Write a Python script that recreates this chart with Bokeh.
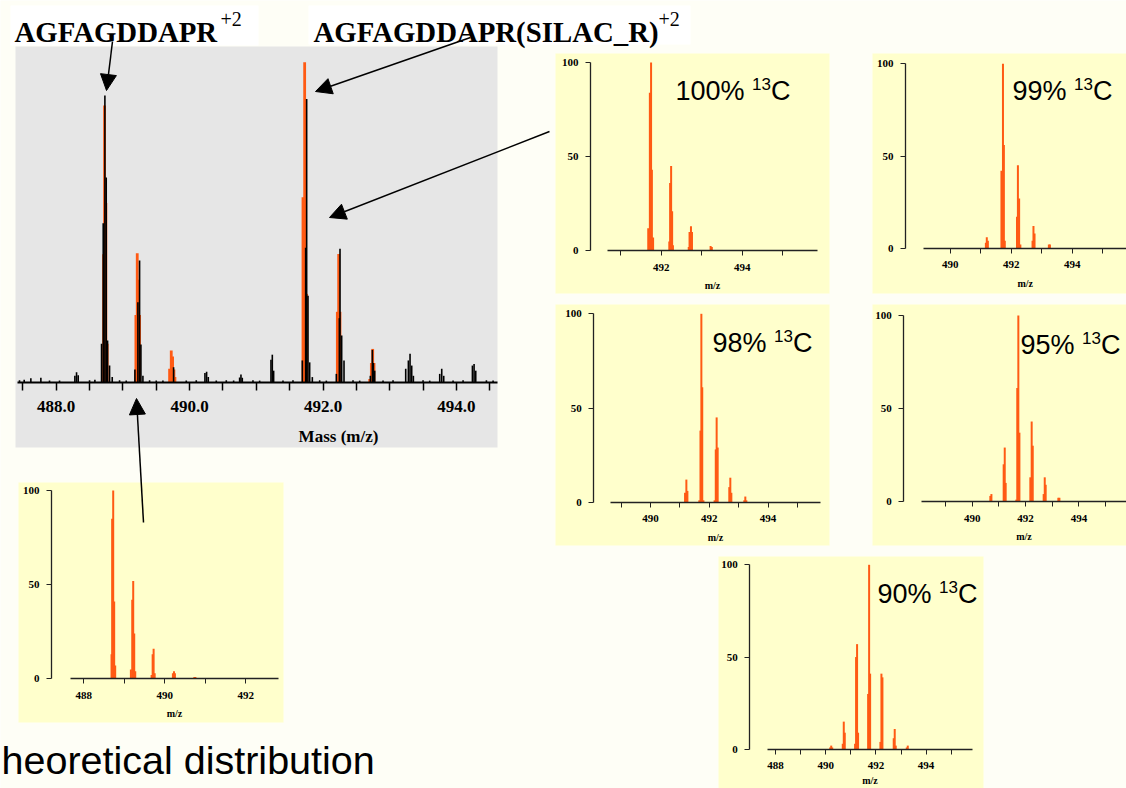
from bokeh.plotting import figure
from bokeh.models import Range1d, LinearAxis, FixedTicker, PrintfTickFormatter, Arrow, NormalHead
from bokeh.core.properties import value
from bokeh.embed import file_html
from bokeh.resources import INLINE

# ------------------------------------------------------------------ data
# observed spectrum (black), m/z and intensity (% of tallest fitted peak)
obs_mz = [487.45, 487.52, 487.62, 487.77, 487.90, 488.05, 488.28, 488.305, 488.33, 488.50, 488.58,
          488.68, 488.705, 488.73, 488.75, 488.77, 488.80, 488.84, 488.95, 489.05,
          489.18, 489.225, 489.25, 489.27, 489.30, 489.40, 489.50, 489.60, 489.76, 489.95, 490.10,
          490.23, 490.255, 490.28, 490.40, 490.55, 490.66, 490.75, 490.77, 490.79, 490.95, 491.05,
          491.22, 491.24, 491.26, 491.40, 491.55,
          491.69, 491.74, 491.755, 491.775, 491.80, 491.84, 491.95, 492.05,
          492.20, 492.245, 492.255, 492.28, 492.315, 492.45, 492.55,
          492.71, 492.74, 492.755, 492.775, 492.90, 493.05,
          493.24, 493.28, 493.305, 493.33, 493.355, 493.50, 493.60,
          493.75, 493.78, 493.81, 493.95, 494.10, 494.24, 494.265, 494.29, 494.45, 494.55]
obs_int = [0.6, 0.8, 1.2, 1.4, 0.5, 0.5, 2.0, 3.1, 2.2, 0.6, 0.8,
           12, 49.7, 89.6, 64, 13, 5.2, 1.6, 0.6, 0.5,
           4, 25, 38, 11.8, 2, 0.6, 0.5, 0.5, 4.7, 0.5, 0.6,
           2.9, 3.3, 1.6, 0.5, 0.6, 0.5, 1.5, 2.4, 1.4, 0.6, 0.5,
           7, 8.6, 3.6, 0.5, 0.6,
           6.8, 42, 88.5, 27, 6.2, 1.6, 0.6, 0.5,
           2.6, 20, 41.7, 14.6, 6.8, 0.6, 0.5,
           2, 10.1, 6, 3.6, 0.5, 0.6,
           4.2, 6.8, 8.9, 5.2, 2, 0.6, 0.5,
           2.6, 4.2, 2, 0.5, 0.6, 5.2, 5.7, 3.6, 0.6, 0.5]
# fitted / theoretical overlay on the observed spectrum (orange)
fit_mz = [488.71, 488.725, 488.745, 488.765,
          489.195, 489.215, 489.235, 489.25,
          489.70, 489.725, 489.745, 489.765, 489.78,
          491.70, 491.725, 491.755,
          492.215, 492.235, 492.255,
          492.70, 492.725, 492.745, 492.765]
fit_int = [40, 86.5, 56, 12,
           21, 40.3, 32, 21,
           4.2, 9.9, 8, 4, 1.6,
           57.8, 100, 27.6,
           22, 40.1, 22,
           1, 6, 10.4, 6]
# theoretical distribution, light peptide
theo_mz = [488.685, 488.70, 488.726, 488.75, 488.775,
           489.163, 489.196, 489.22, 489.245, 489.27,
           489.674, 489.70, 489.724, 489.75,
           490.20, 490.227, 490.25, 490.73, 490.755]
theo_int = [13, 85, 100, 41, 7,
            5, 42, 52, 24, 4,
            2, 13, 16, 3,
            3, 4, 3, 1, 1]
# heavy peptide at different 13C enrichment
c100_mz = [491.68, 491.72, 491.75, 491.77, 491.80, 492.20, 492.22, 492.245, 492.27, 492.29,
           492.68, 492.70, 492.735, 492.76, 493.22, 493.25]
c100_int = [12, 84, 100, 43, 7, 5, 36, 45, 21, 3, 2, 10, 13, 10, 2.5, 2]
c99_mz = [491.17, 491.20, 491.235, 491.68, 491.73, 491.76, 491.79, 492.19, 492.22, 492.26, 492.30,
          492.70, 492.73, 492.765, 493.235, 493.27]
c99_int = [3, 6, 4, 42, 100, 56, 4, 17, 45, 27, 2, 4, 12, 8, 2, 2]
c98_mz = [491.175, 491.22, 491.255, 491.66, 491.70, 491.73, 491.76, 491.80, 492.18, 492.22, 492.25, 492.285,
          492.68, 492.715, 492.75, 493.19, 493.225, 493.26]
c98_int = [5, 12, 6, 1, 38, 100, 61, 1, 1, 28, 45, 29, 8, 13, 5, 1, 3, 1]
c95_mz = [490.68, 490.72, 491.18, 491.22, 491.255, 491.655, 491.69, 491.73, 491.77, 492.18, 492.23, 492.27,
          492.68, 492.72, 492.755, 493.23, 493.27]
c95_int = [3, 4, 20, 29, 10, 1, 61, 100, 37, 13, 43, 30, 4, 13, 9, 2, 2]
c90_mz = [490.18, 490.22, 490.26, 490.68, 490.72, 490.76, 491.17, 491.21, 491.25, 491.29,
          491.69, 491.73, 491.77, 492.18, 492.22, 492.26, 492.71, 492.75, 492.79, 493.23, 493.27]
c90_int = [1, 2, 1, 3, 15, 9, 3, 50, 57, 9, 30, 100, 41, 4, 41, 39, 6, 11, 2, 1, 2]

enrich_labels = ["100%", "99%", "98%", "95%", "90%"]
iso_mass = "13"
element = "C"
peptide_light = "AGFAGDDAPR"
peptide_heavy = "AGFAGDDAPR(SILAC_R)"
charge = "+2"
main_ticks = [488, 490, 492, 494]
main_minor = [487.5, 488.5, 489.0, 489.5, 490.5, 491.0, 491.5, 492.5, 493.0, 493.5, 494.5]
panel_ticks = [488, 490, 492, 494]
panel_minor = [489, 491, 493, 495]
y_ticks = [0, 50, 100]
main_xlabel = "Mass (m/z)"
panel_xlabel = "m/z"
caption = "heoretical distribution"

# ------------------------------------------------------------------ layout / style
W, H = 1126, 788
BG = "#FEFEF6"
GRAY = "#E6E6E6"
YEL = "#FFFFCC"
ORANGE = "#FF5A14"
SERIF = value("Liberation Serif")
SANS = value("Liberation Sans")

p = figure(width=W, height=H, x_range=Range1d(0, W), y_range=Range1d(H, 0),
           x_axis_type=None, y_axis_type=None, toolbar_location=None, output_backend="svg",
           min_border=0, outline_line_color=None, background_fill_color=BG, border_fill_color=BG)

main_g = dict(key="main", rect=(15, 497, 46, 447), xref=(488, 55.7), ppu=66.7, y0=381.7, y100=61.7,
              axis=(16.7, 496.7))
panels = [
    dict(key="theo", rect=(18, 283, 482, 722), xref=(488, 83.3), ppu=40.5, axis=(70, 278),
         y0=678.3, y100=490, yax=51, mz=theo_mz, inten=theo_int, label=None, lab_off=35),
    dict(key="c100", rect=(555, 829, 53, 293), xref=(492, 660.7), ppu=40.5, axis=(607, 817),
         y0=250.3, y100=62, yax=590, mz=c100_mz, inten=c100_int, label=(0, 675, 90), lab_off=35),
    dict(key="c99", rect=(872, 1126, 53, 293), xref=(492, 1010.7), ppu=30.5, axis=(923.3, 1126),
         y0=247.7, y100=63.3, yax=905, mz=c99_mz, inten=c99_int, label=(1, 1012, 90), lab_off=35),
    dict(key="c98", rect=(555, 829, 304, 545), xref=(490, 650), ppu=29.4, axis=(610, 820),
         y0=501.7, y100=313.3, yax=593.3, mz=c98_mz, inten=c98_int, label=(2, 712, 342), lab_off=35),
    dict(key="c95", rect=(872, 1126, 304, 545), xref=(490, 971.7), ppu=26.67, axis=(921, 1126),
         y0=501, y100=315, yax=903.3, mz=c95_mz, inten=c95_int, label=(3, 1020, 344), lab_off=35),
    dict(key="c90", rect=(718, 983, 556, 788), xref=(488, 775), ppu=25.1, axis=(766.7, 972.3),
         y0=748.8, y100=564.3, yax=749.3, mz=c90_mz, inten=c90_int, label=(4, 877, 593), lab_off=31),
]


def setup_ranges(g):
    key = g["key"]
    s = g["ppu"]
    ref, refpx = g["xref"]
    k = (g["y0"] - g["y100"]) / 100.0
    p.extra_x_ranges[key + "_x"] = Range1d(ref + (0 - refpx) / s, ref + (W - refpx) / s)
    p.extra_y_ranges[key + "_y"] = Range1d((g["y0"] - H) / k, (g["y0"] - 0) / k)
    xa0 = ref + (g["axis"][0] - refpx) / s
    xa1 = ref + (g["axis"][1] - refpx) / s
    return key + "_x", key + "_y", xa0, xa1, s


# ---------------- backgrounds
p.quad(left=[10, 308], right=[258, 690], top=[5, 5], bottom=[45, 44], fill_color="white", line_color=None)
for g in [main_g] + panels:
    l, r, t, b = g["rect"]
    p.quad(left=[l], right=[r], top=[t], bottom=[b], fill_color=GRAY if g is main_g else YEL, line_color=None)

# ---------------- main observed spectrum
kx, ky, xa0, xa1, s = setup_ranges(main_g)
p.segment(x0=fit_mz, y0=[0] * len(fit_mz), x1=fit_mz, y1=fit_int, x_range_name=kx, y_range_name=ky,
          line_color=ORANGE, line_width=2.8)
p.segment(x0=obs_mz, y0=[0] * len(obs_mz), x1=obs_mz, y1=obs_int, x_range_name=kx, y_range_name=ky,
          line_color="black", line_width=1.6)
ax = LinearAxis(x_range_name=kx, y_range_name=ky, fixed_location=0, bounds=(xa0, xa1),
                ticker=FixedTicker(ticks=[t for t in main_ticks if xa0 <= t <= xa1],
                                   minor_ticks=[t for t in main_minor if xa0 <= t <= xa1]),
                formatter=PrintfTickFormatter(format="%.1f"),
                axis_line_width=2, axis_line_color="black",
                major_tick_in=0, major_tick_out=8, minor_tick_in=0, minor_tick_out=8,
                major_tick_line_width=1.5, minor_tick_line_width=1.5,
                major_label_text_font="Liberation Serif", major_label_text_font_style="bold",
                major_label_text_font_size="17px", major_label_text_color="black",
                major_label_standoff=11)
p.add_layout(ax, "below")
p.text(x=[338], y=[436], text=[main_xlabel], text_font=SERIF, text_font_style="bold",
       text_font_size="17px", text_align="center", text_baseline="middle", text_color="black")

# ---------------- small panels
for g in panels:
    kx, ky, xa0, xa1, s = setup_ranges(g)
    p.segment(x0=g["mz"], y0=[0] * len(g["mz"]), x1=g["mz"], y1=g["inten"], x_range_name=kx, y_range_name=ky,
              line_color=ORANGE, line_width=2.0)
    xax = LinearAxis(x_range_name=kx, y_range_name=ky, fixed_location=0, bounds=(xa0, xa1),
                     ticker=FixedTicker(ticks=[t for t in panel_ticks if xa0 <= t <= xa1],
                                        minor_ticks=[t for t in panel_minor if xa0 <= t <= xa1]),
                     axis_line_width=1.3, axis_line_color="#222222",
                     major_tick_in=0, major_tick_out=5, minor_tick_in=0, minor_tick_out=5,
                     major_tick_line_color="#222222", minor_tick_line_color="#222222",
                     major_label_text_font="Liberation Serif", major_label_text_font_style="bold",
                     major_label_text_font_size="11px", major_label_text_color="black",
                     major_label_standoff=8)
    p.add_layout(xax, "below")
    yfix = g["xref"][0] + (g["yax"] - g["xref"][1]) / s
    yax = LinearAxis(x_range_name=kx, y_range_name=ky, fixed_location=yfix, bounds=(0, 100),
                     ticker=FixedTicker(ticks=y_ticks, minor_ticks=[]),
                     axis_line_width=1.3, axis_line_color="#222222",
                     major_tick_in=0, major_tick_out=5, minor_tick_in=0, minor_tick_out=0,
                     major_tick_line_color="#222222",
                     major_label_text_font="Liberation Serif", major_label_text_font_style="bold",
                     major_label_text_font_size="11px", major_label_text_color="black",
                     major_label_standoff=7)
    p.add_layout(yax, "left")
    p.text(x=[(xa0 + xa1) / 2], y=[0], text=[panel_xlabel], x_range_name=kx, y_range_name=ky,
           y_offset=g["lab_off"], text_font=SERIF, text_font_style="bold", text_font_size="10px",
           text_align="center", text_baseline="middle", text_color="black")

# ---------------- texts on top
p.text(x=[14, 313], y=[31, 31], text=[peptide_light, peptide_heavy], text_font=SERIF,
       text_font_style="bold", text_font_size="28.8px", text_baseline="middle", text_color="black")
p.text(x=[220, 658], y=[18, 18], text=[charge, charge], text_font=SERIF,
       text_font_size="20px", text_baseline="middle", text_color="black")
for g in panels:
    if g["label"] is None:
        continue
    i, lx, ly = g["label"]
    lab = enrich_labels[i]
    wpct = 27 * (0.556 * (len(lab) - 1) + 0.889 + 0.278)
    p.text(x=[lx], y=[ly], text=[lab], text_font=SANS, text_font_size="27px",
           text_baseline="middle", text_color="black")
    p.text(x=[lx + wpct], y=[ly - 7], text=[iso_mass], text_font=SANS, text_font_size="17px",
           text_baseline="middle", text_color="black")
    p.text(x=[lx + wpct + 19], y=[ly], text=[element], text_font=SANS, text_font_size="27px",
           text_baseline="middle", text_color="black")

# ---------------- arrows
for (x0, y0, x1, y1) in [(112, 41, 106, 90), (470, 37, 315, 91), (549, 131, 329, 217), (143, 522, 136, 398)]:
    p.add_layout(Arrow(end=NormalHead(size=16, fill_color="black", line_color="black", line_width=1),
                       x_start=x0, y_start=y0, x_end=x1, y_end=y1, line_color="black", line_width=1.5))

# ---------------- caption
p.text(x=[1], y=[759], text=[caption], text_font=SANS, text_font_size="39.5px",
       text_baseline="middle", text_color="black")

open("out.html", "w").write(file_html(p, INLINE))
